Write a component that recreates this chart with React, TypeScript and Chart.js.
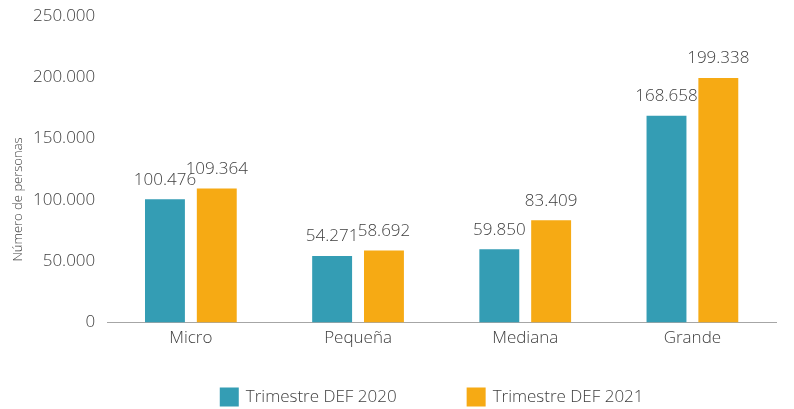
import React, { useEffect, useRef } from "react";
import { Chart, registerables } from "chart.js";

Chart.register(...registerables);

const categories = ["Micro", "Pequeña", "Mediana", "Grande"];
const series2020 = [100476, 54271, 59850, 168658];
const series2021 = [109364, 58692, 83409, 199338];
const seriesNames = ["Trimestre DEF 2020", "Trimestre DEF 2021"];
const seriesColors = ["#349DB4", "#F6AA14"];
const yTicks = [0, 50000, 100000, 150000, 200000, 250000];
const yTitle = "Número de personas";

const FONT = "'Open Sans'";
const WEIGHT = "300";
const TEXT = "#404040";
const fmt = (v: number) => v.toLocaleString("de-DE");

const labelPlugin = {
  id: "valueLabels",
  afterDatasetsDraw(chart: any) {
    const ctx = chart.ctx;
    ctx.save();
    ctx.font = `${WEIGHT} 17px ${FONT}`;
    ctx.fillStyle = TEXT;
    ctx.textAlign = "center";
    ctx.textBaseline = "bottom";
    chart.data.datasets.forEach((ds: any, i: number) => {
      const meta = chart.getDatasetMeta(i);
      meta.data.forEach((bar: any, j: number) => {
        ctx.fillText(fmt(ds.data[j]), bar.x, bar.y - 11);
      });
    });
    ctx.restore();
  },
};

const extrasPlugin = {
  id: "extras",
  afterDraw(chart: any) {
    const ctx = chart.ctx;
    const area = chart.chartArea;
    ctx.save();
    ctx.font = `${WEIGHT} 13px ${FONT}`;
    ctx.fillStyle = TEXT;
    ctx.textAlign = "center";
    ctx.textBaseline = "middle";
    ctx.translate(18, chart.height / 2 - 5);
    ctx.rotate(-Math.PI / 2);
    ctx.fillText(yTitle, 0, 0);
    ctx.restore();

    ctx.save();
    ctx.font = `${WEIGHT} 17px ${FONT}`;
    ctx.textBaseline = "middle";
    ctx.textAlign = "left";
    const box = 19;
    const gapBoxText = 7;
    const gapItems = 70;
    const widths = seriesNames.map((n) => box + gapBoxText + ctx.measureText(n).width);
    const total = widths.reduce((a, b) => a + b, 0) + gapItems * (widths.length - 1);
    let x = (area.left + area.right) / 2 - total / 2 - 10;
    const yc = 397;
    seriesNames.forEach((n, i) => {
      ctx.fillStyle = seriesColors[i];
      ctx.fillRect(x, yc - box / 2, box, box);
      ctx.fillStyle = TEXT;
      ctx.fillText(n, x + box + gapBoxText, yc);
      x += widths[i] + gapItems;
    });
    ctx.restore();
  },
};

export default function App() {
  const ref = useRef<HTMLCanvasElement>(null);
  useEffect(() => {
    const chart = new Chart(ref.current!, {
      type: "bar",
      data: {
        labels: categories,
        datasets: [
          { label: seriesNames[0], data: series2020, backgroundColor: seriesColors[0], barPercentage: 0.77, categoryPercentage: 0.62 },
          { label: seriesNames[1], data: series2021, backgroundColor: seriesColors[1], barPercentage: 0.77, categoryPercentage: 0.62 },
        ],
      },
      options: {
        animation: false,
        responsive: false,
        layout: { padding: { top: 0, right: 18, left: 21, bottom: 56 } },
        plugins: {
          tooltip: { enabled: false },
          legend: { display: false },
        },
        scales: {
          x: {
            grid: { display: false, drawTicks: false },
            border: { display: true, color: "#a6a6a6" },
            ticks: { font: { family: FONT, size: 17, weight: WEIGHT }, color: TEXT, padding: 5 },
          },
          y: {
            min: 0,
            max: 250000,
            afterBuildTicks: (axis: any) => {
              axis.ticks = yTicks.map((v) => ({ value: v }));
            },
            grid: { display: false, drawTicks: false },
            border: { display: false },
            ticks: {
              font: { family: FONT, size: 17, weight: WEIGHT, lineHeight: 0.45 },
              color: TEXT,
              padding: 12,
              callback: (v: any) => fmt(Number(v)),
            },
          },
        },
      },
      plugins: [labelPlugin, extrasPlugin],
    });
    return () => chart.destroy();
  }, []);
  return (
    <div style={{ position: "fixed", left: 0, top: 0, width: 794, height: 409, background: "#fff" }}>
      <canvas ref={ref} width={794} height={409} />
    </div>
  );
}
